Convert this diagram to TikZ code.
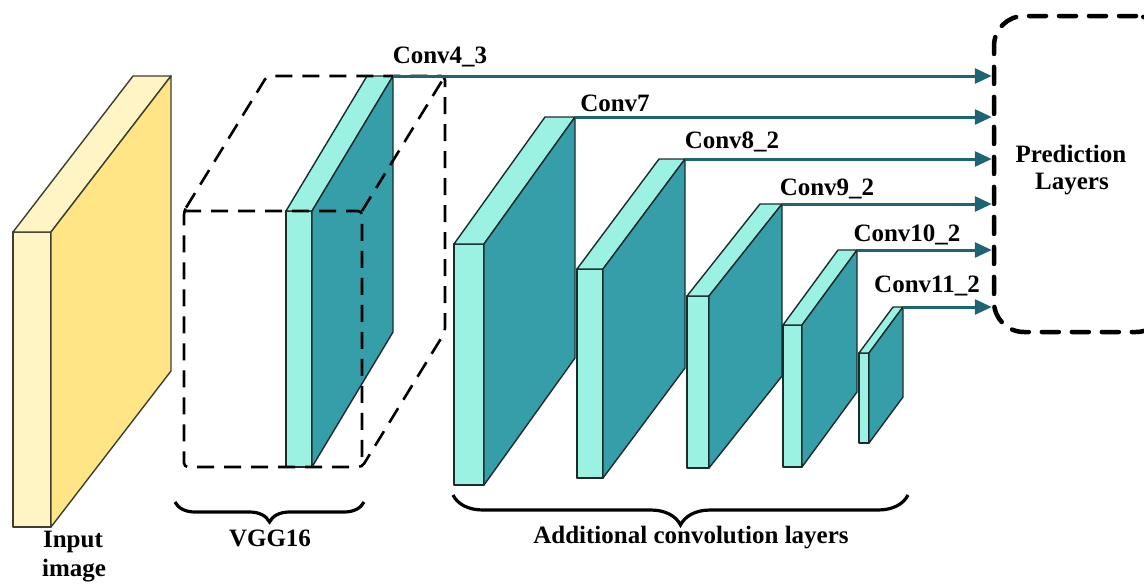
\documentclass[tikz,border=0pt]{standalone}
\usepackage{fontspec}
\setmainfont{Liberation Serif}
\usetikzlibrary{arrows.meta,decorations.pathreplacing}
\definecolor{aqualight}{HTML}{9BF2E2}
\definecolor{aquadark}{HTML}{359EA8}
\definecolor{arrowteal}{HTML}{1D6475}
\definecolor{ylight}{HTML}{FFF4C4}
\definecolor{ydark}{HTML}{FFE585}
\definecolor{tedge}{HTML}{1C2C2C}
\definecolor{yedge}{HTML}{3E3E30}
% #1 xL #2 xR #3 yTop #4 yBottom #5 dx #6 dy(up) #7 light #8 dark #9 name of back top-right corner
\newcommand\drawslab[9]{%
  \filldraw[slabline,fill=#7] (#1,#3) rectangle (#2,#4);
  \filldraw[slabline,fill=#7] (#1,#3) -- (#1+#5,#3-#6) -- (#2+#5,#3-#6) -- (#2,#3) -- cycle;
  \filldraw[slabline,fill=#8] (#2,#3) -- (#2+#5,#3-#6) -- (#2+#5,#4-#6) -- (#2,#4) -- cycle;
  \coordinate (#9) at (#2+#5,#3-#6);
}
\begin{document}
\begin{tikzpicture}[x=1pt,y=-1pt,
  slabline/.style={line width=1.4pt,draw=tedge,line join=round},
  lbl/.style={font=\fontsize{25}{30}\selectfont\bfseries,inner sep=0pt,anchor=base},
  conn/.style={draw=arrowteal,line width=3pt,-{Triangle[length=17pt,width=15pt]}},
  vggbox/.style={draw=black,line width=2.6pt,dash pattern=on 17pt off 10pt,rounded corners=4pt},
  predbox/.style={draw=black,line width=4.5pt,dash pattern=on 17pt off 13pt,line cap=round,rounded corners=30pt,minimum width=172pt,minimum height=316pt,inner sep=0pt},
  bracestyle/.style={draw=black,line width=3.2pt,decorate}]
\path[use as bounding box] (0,0) rectangle (1144,584);
\clip (0,0) rectangle (1144,584);
\fill[white] (0,0) rectangle (1144,584);

% input image
\begin{scope}[slabline/.append style={draw=yedge}]
\drawslab{13}{51}{232}{527}{120}{156}{ylight}{ydark}{cin}
\end{scope}

% VGG16 conv4_3
\drawslab{286}{312}{211}{467}{81}{135}{aqualight}{aquadark}{c43}

% additional layers
\drawslab{454}{484}{244}{485}{91}{127}{aqualight}{aquadark}{c7}
\drawslab{577}{603}{269}{478}{82}{110}{aqualight}{aquadark}{c82}
\drawslab{687}{709}{296}{468}{73}{92}{aqualight}{aquadark}{c92}
\drawslab{783}{802}{325}{467}{55}{75}{aqualight}{aquadark}{c102}
\drawslab{859}{869}{353}{443}{34}{46}{aqualight}{aquadark}{c112}

% VGG dashed box
\draw[vggbox] (184,211) -- (267,76) -- (445,76) -- (445,332) -- (362,467) -- (184,467) -- cycle;
\draw[vggbox] (184,211) -- (362,211) -- (362,467);
\draw[vggbox] (362,211) -- (445,76);

% prediction box
\node[predbox] (pred) at (1080,174) {};
\node[lbl] (predtxt1) at (1071,162) {Prediction};
\node[lbl] (predtxt2) at (1072,189) {Layers};

% arrows
\draw[conn] (c43) -- (c43 -| pred.west);
\draw[conn] (c7) -- (c7 -| pred.west);
\draw[conn] (c82) -- (c82 -| pred.west);
\draw[conn] (c92) -- (c92 -| pred.west);
\draw[conn] (c102) -- (c102 -| pred.west);
\draw[conn] (c112) -- (c112 -| pred.west);

% labels
\node[lbl] (l43) at (440,63) {Conv4\_3};
\node[lbl] (l7) at (615,111) {Conv7};
\node[lbl] (l82) at (732,148) {Conv8\_2};
\node[lbl] (l92) at (827,195) {Conv9\_2};
\node[lbl] (l102) at (907,241) {Conv10\_2};
\node[lbl] (l112) at (927,292) {Conv11\_2};

% braces
\coordinate (bv1) at (175,502);
\coordinate (bv2) at (364,502);
\draw[bracestyle,decoration={brace,mirror,amplitude=20pt}] (bv1) -- (bv2);
\coordinate (ba1) at (453,495);
\coordinate (ba2) at (908,495);
\draw[bracestyle,decoration={brace,mirror,amplitude=30pt}] (ba1) -- (ba2);

\node[lbl] (vgg) at (270,546) {VGG16};
\node[lbl] (add) at (691,543) {Additional convolution layers};
\node[lbl] (inp1) at (73,547) {Input};
\node[lbl] (inp2) at (74,576) {image};
\end{tikzpicture}
\end{document}
